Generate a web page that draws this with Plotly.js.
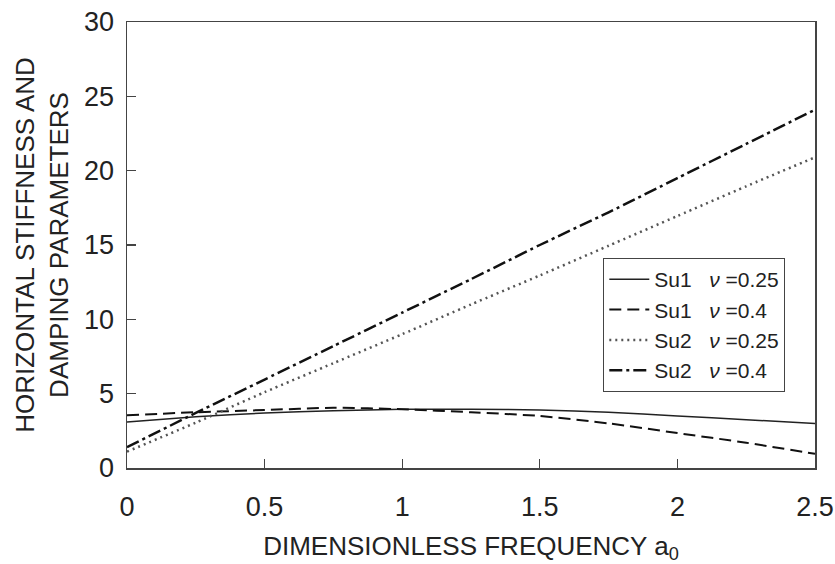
<!DOCTYPE html>
<html>
<head>
<meta charset="utf-8">
<script src="https://cdn.plot.ly/plotly-3.0.1.min.js"></script>
<style>html,body{margin:0;padding:0;background:#fff;}#chart{width:835px;height:564px;}</style>
</head>
<body>
<div id="chart"></div>
<script>
const a0 = [0, 0.25, 0.5, 0.75, 1.0, 1.25, 1.5, 1.75, 2.0, 2.25, 2.5];
const su1_025 = [3.1, 3.45, 3.7, 3.85, 3.95, 3.95, 3.9, 3.75, 3.5, 3.25, 3.0];
const su1_04  = [3.55, 3.75, 3.9, 4.05, 3.95, 3.75, 3.5, 3.0, 2.35, 1.7, 0.95];
const su2_025 = [1.1, 3.05, 5.1, 7.05, 9.0, 11.0, 12.95, 14.95, 16.95, 18.95, 20.9];
const su2_04  = [1.4, 3.7, 5.95, 8.2, 10.45, 12.7, 15.0, 17.2, 19.5, 21.8, 24.1];
const names = ["Su1&nbsp;&nbsp; <i>ν</i> =0.25", "Su1&nbsp;&nbsp; <i>ν</i> =0.4", "Su2&nbsp;&nbsp; <i>ν</i> =0.25", "Su2&nbsp;&nbsp; <i>ν</i> =0.4"];
const xTicks = [0, 0.5, 1, 1.5, 2, 2.5];
const xTickText = ["0", "0.5", "1", "1.5", "2", "2.5"];
const yTicks = [0, 5, 10, 15, 20, 25, 30];

const FONT = "'Liberation Sans', Arial, sans-serif";
const styles = [
  {color: "#222", width: 1.5, dash: "solid"},
  {color: "#111", width: 2, dash: "12px,6px"},
  {color: "#555", width: 2.5, dash: "2px,4px"},
  {color: "#111", width: 2.5, dash: "13px,4px,3px,4px"}
];
const series = [su1_025, su1_04, su2_025, su2_04];
const data = series.map((ys, i) => ({
  x: a0, y: ys, type: "scatter", mode: "lines", name: names[i],
  line: Object.assign({shape: "spline", smoothing: 0.6}, styles[i])
}));

const layout = {
  width: 835, height: 564,
  margin: {l: 127, r: 20, t: 22, b: 96},
  paper_bgcolor: "#fff", plot_bgcolor: "#fff",
  font: {family: FONT, color: "#222", size: 21},
  showlegend: true,
  legend: {
    x: 0.692, y: 0.471, xanchor: "left", yanchor: "top",
    bgcolor: "#fff", bordercolor: "#444", borderwidth: 1.2,
    font: {family: FONT, size: 21, color: "#222"},
    itemwidth: 40
  },
  xaxis: {
    range: [0, 2.5], tickvals: xTicks, ticktext: xTickText,
    ticks: "inside", ticklen: 9, tickcolor: "#444", tickwidth: 1.2,
    showline: true, linecolor: "#444", linewidth: 1.5, mirror: true,
    showgrid: false, zeroline: false,
    ticklabelstandoff: 14,
    tickfont: {family: FONT, size: 27, color: "#222"},
    title: {text: "DIMENSIONLESS FREQUENCY a<sub>0</sub>", font: {family: FONT, size: 26, color: "#222"}, standoff: 16}
  },
  yaxis: {
    range: [0, 30], tickvals: yTicks,
    ticks: "inside", ticklen: 9, tickcolor: "#444", tickwidth: 1.2,
    showline: true, linecolor: "#444", linewidth: 1.5, mirror: true,
    showgrid: false, zeroline: false,
    ticklabelstandoff: 6,
    tickfont: {family: FONT, size: 27, color: "#222"},
    title: {text: "HORIZONTAL STIFFNESS AND<br>DAMPING PARAMETERS", font: {family: FONT, size: 26, color: "#222"}, standoff: 8}
  }
};
Plotly.newPlot("chart", data, layout, {displayModeBar: false, staticPlot: true});
</script>
</body>
</html>
